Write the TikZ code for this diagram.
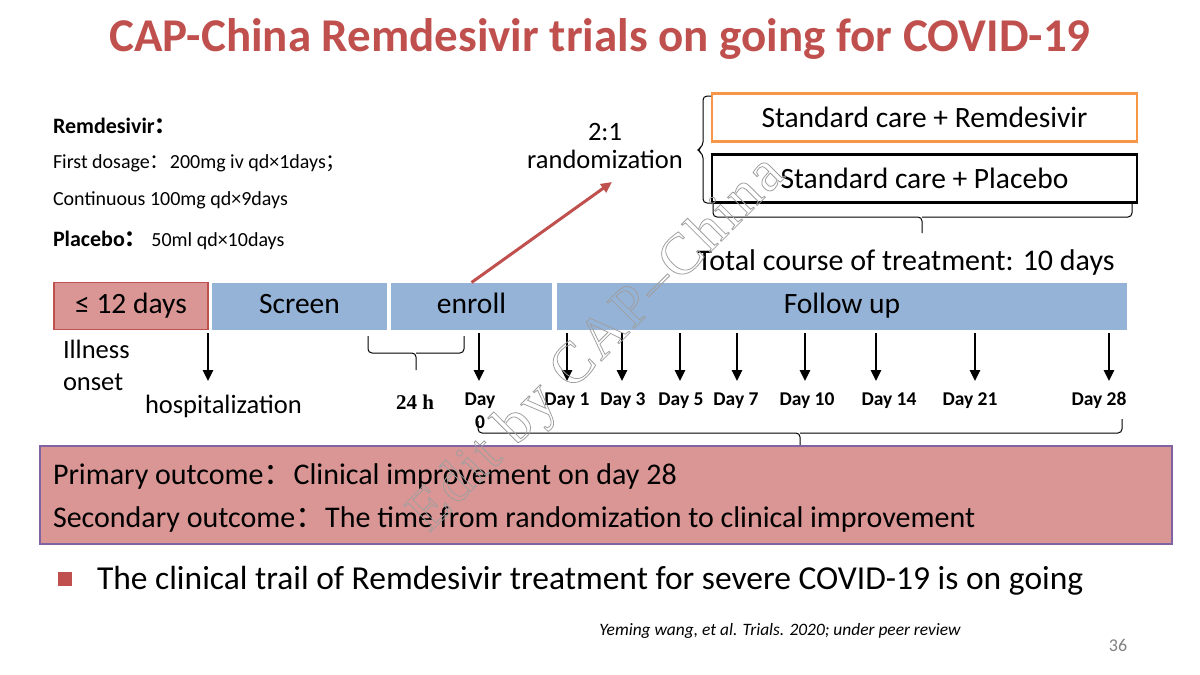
\documentclass[tikz,border=0pt]{standalone}
\usepackage{fontspec}
\setmainfont{Carlito}
\newfontfamily\cjk{Noto Sans CJK SC}
\newfontfamily\serif{Liberation Serif}
\newfontfamily\markfont[LetterSpace=5]{Liberation Serif}
\usetikzlibrary{arrows.meta}
\definecolor{titlered}{RGB}{192,80,77}
\definecolor{barblue}{RGB}{149,179,215}
\definecolor{rosy}{RGB}{217,150,148}
\definecolor{armorange}{RGB}{247,150,70}
\definecolor{boxpurple}{RGB}{128,100,162}
\newcommand{\fcolon}{{\cjk ：}}
\newcommand{\fsemi}{{\cjk ；}}
\tikzset{
    every node/.style={inner sep=0pt, outer sep=0pt},
    bar/.style={rectangle, fill=barblue, minimum height=47pt,
        text height=20pt, text depth=6pt, font=\fontsize{29.5}{34}\selectfont},
    arm/.style={rectangle, draw, line width=2.5pt, minimum width=425pt,
        minimum height=48pt, font=\fontsize{29.5}{34}\selectfont},
    txt/.style={anchor=base west, font=\fontsize{26.5}{30}\selectfont},
    dose/.style={anchor=base west, font=\fontsize{20}{24}\selectfont},
    daylab/.style={anchor=base, font=\bfseries\fontsize{19.5}{22}\selectfont},
    tick/.style={line width=2.5pt, -{Triangle[width=10pt,length=11pt]}},
    bracket/.style={line width=1pt, rounded corners=4pt}
}

\begin{document}
\begin{tikzpicture}[x=1pt, y=-1pt]
  \useasboundingbox (0,0) rectangle (1200,675);

  \node (title) [anchor=base, text=titlered,
    font=\bfseries\fontsize{47}{50}\selectfont] at (600, 51)
    {CAP-China Remdesivir trials on going for COVID-19};

  % dosage
  \node (rem) [anchor=base west, font=\bfseries\fontsize{22}{26}\selectfont]
    at (53, 133) {Remdesivir\fcolon};
  \node (first) [dose] at (53, 168) {First dosage\fcolon 200mg iv qd×1days\fsemi};
  \node (cont) [dose] at (53, 205) {Continuous 100mg qd×9days};
  \node (plac) [dose] at (53, 246) {{\bfseries\fontsize{22}{26}\selectfont
    Placebo\fcolon} 50ml qd×10days};

  % randomization
  \node (ratio) [txt, anchor=base] at (605, 140) {2:1};
  \node (rand) [txt, anchor=base] at (605, 168) {randomization};
  \node (armR) [arm, draw=armorange] at (924.5, 117.5) {Standard care + Remdesivir};
  \node (armP) [arm] at (924.5, 178.5) {Standard care + Placebo};
  \draw[bracket] (711, 96) -- (703, 96) -- (703, 146) -- (697, 150)
    -- (703, 154) -- (703, 203) -- (711, 203);
  \draw[bracket] (713, 204) |- (922, 217) -- (922, 233)
    (922, 217) -| (1132, 204);
  \node (course) [anchor=base, font=\fontsize{30}{34}\selectfont] at (906, 270)
    {Total course of treatment: 10 days};

  % timeline
  \node (onset) [rectangle, fill=rosy, draw=titlered, line width=1.5pt,
    minimum width=154pt, minimum height=47pt, text height=20pt, text depth=6pt,
    font=\fontsize{29.5}{34}\selectfont] at (131, 306) {≤ 12 days};
  \node (screen) [bar, minimum width=175pt] at (299.5, 306.5) {Screen};
  \node (enroll) [bar, minimum width=161pt] at (471.5, 306) {enroll};
  \node (follow) [bar, minimum width=570pt] at (842, 306) {Follow up};

  \coordinate (rtip) at (612, 182);
  \draw[titlered, line width=3pt, -{Triangle[width=10pt,length=11pt]}]
    (enroll.north) -- (rtip);

  \node (ill) [txt] at (63, 358) {Illness};
  \node (ons) [txt] at (63, 390) {onset};
  \node (hosp) [txt] at (145, 413) {hospitalization};
  \node (hours) [anchor=base, font=\serif\bfseries\fontsize{21}{24}\selectfont]
    at (415, 409) {24 h};
  \node (day0) [daylab] at (480, 405) {Day};
  \node (zero) [daylab] at (480, 428) {0};

  \coordinate (h1) at (208, 333);
  \coordinate (h2) at (208, 381);
  \draw[tick] (h1) -- (h2);
  \coordinate (z1) at (479, 333);
  \coordinate (z2) at (479, 381);
  \draw[tick] (z1) -- (z2);
  \foreach \ax/\lx/\d in {567/567/1, 622/623/3, 680/681/5, 737/736/7,
      805/807/10, 876/889/14, 975/970/21, 1109/1099/28} {
    \coordinate (a\d) at (\ax, 333);
    \coordinate (b\d) at (\ax, 381);
    \draw[tick] (a\d) -- (b\d);
    \node (day\d) [daylab] at (\lx, 405) {Day \d};
  }

  \draw[bracket] (368, 336) |- (416, 353) -- (416, 370)
    (416, 353) -| (464, 336);
  \draw[bracket] (478, 421) |- (800, 433) -- (800, 446)
    (800, 433) -| (1122, 419);

  % outcomes
  \node (outcome) [rectangle, fill=rosy, draw=boxpurple, line width=1.5pt,
    minimum width=1132pt, minimum height=98pt] at (606, 495) {};
  \node (prim) [anchor=base west, font=\fontsize{30}{34}\selectfont] at (53, 484)
    {Primary outcome\fcolon Clinical improvement on day 28};
  \node (sec) [anchor=base west, font=\fontsize{30}{34}\selectfont] at (53, 527)
    {Secondary outcome\fcolon The time from randomization to clinical improvement};

  \node (bul) [rectangle, fill=titlered, minimum size=14pt] at (65, 579) {};
  \node (note) [anchor=base west, font=\fontsize{33.5}{38}\selectfont] at (97, 589)
    {The clinical trail of Remdesivir treatment for severe COVID-19 is on going};
  \node (cite) [anchor=base, font=\itshape\fontsize{17.4}{20}\selectfont] at (780, 635)
    {Yeming wang, et al. Trials. 2020; under peer review};
  \node (page) [anchor=base, text=gray, font=\fontsize{18}{21}\selectfont]
    at (1118, 651) {36};

  \node (mark) [rotate=45, text=gray!75, font=\markfont\fontsize{58}{60}\selectfont]
    at (598, 345) {\special{pdf:literal direct 1 Tr 0.8 w}Edit by
    CAP–China\special{pdf:literal direct 0 Tr}};
\end{tikzpicture}
\end{document}
